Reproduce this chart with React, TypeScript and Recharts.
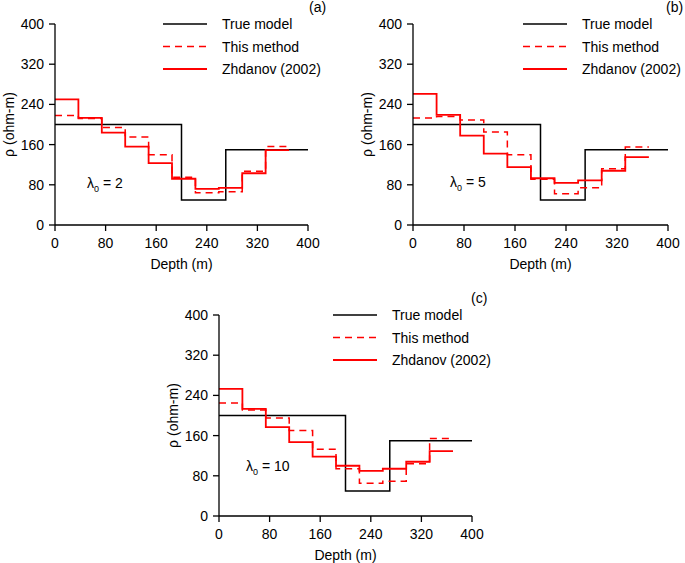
import React from 'react';
import { LineChart, Line, XAxis, YAxis } from 'recharts';

// layer tops (m) of the inverted models, last layer ends at layerEnd
const layerTops = [0, 37, 74, 111, 148, 185, 222, 259, 296, 333];
const layerEnd = 370;

// true model
const trueTops = [0, 200, 270];
const trueValues = [200, 50, 150];
const trueEnd = 400;

// (a) lambda0 = 2
const methodA = [218, 212, 194, 175, 140, 95, 64, 66, 107, 156];
const zhdanovA = [250, 213, 184, 156, 123, 92, 72, 74, 103, 149];
// (b) lambda0 = 5
const methodB = [213, 216, 209, 185, 140, 91, 62, 74, 112, 155];
const zhdanovB = [261, 219, 178, 142, 115, 93, 84, 89, 108, 135];
// (c) lambda0 = 10
const methodC = [225, 211, 195, 170, 133, 94, 65, 69, 104, 154];
const zhdanovC = [253, 213, 177, 147, 118, 100, 90, 94, 108, 129];

const xTicks = [0, 80, 160, 240, 320, 400];
const yTicks = [0, 80, 160, 240, 320, 400];

const FONT = 'Arial, "Liberation Sans", Helvetica, sans-serif';

const steps = (tops: number[], values: number[], end: number) => [
    ...tops.map((x, i) => ({ x, y: values[i] })),
    { x: end, y: values[values.length - 1] },
];

const series = [
    { name: 'True model', color: '#000', width: 1.5, dash: undefined as string | undefined },
    { name: 'This method', color: '#ff0000', width: 1.5, dash: '7 5' },
    { name: 'Zhdanov (2002)', color: '#ff0000', width: 1.8, dash: undefined },
];

const LegendBox = ({ left, top }: { left: number; top: number }) => (
    <svg width={190} height={62} style={{ position: 'absolute', left, top, overflow: 'visible' }}>
        {series.map((s, i) => {
            const y = 8 + i * 22.5;
            return (
                <g key={s.name}>
                    <line x1={0} x2={44} y1={y} y2={y} stroke={s.color}
                        strokeWidth={s.width} strokeDasharray={s.dash} />
                    <text x={59} y={y + 5} fontSize={14} fontFamily={FONT} fill="#000">{s.name}</text>
                </g>
            );
        })}
    </svg>
);

interface PanelProps {
    left: number;
    top: number;
    width: number;
    height: number;
    right: number;
    tag: string;
    tagX: number;
    lambda: number;
    lambdaX: number;
    lambdaY: number;
    legendX: number;
    method: number[];
    zhdanov: number[];
}

const Panel: React.FC<PanelProps> = (p) => {
    const plotH = 201;
    const axisH = 44;
    const bottom = p.height - 24 - plotH - axisH;
    return (
        <div style={{ position: 'absolute', left: p.left, top: p.top, width: p.width, height: p.height }}>
            <LineChart width={p.width} height={p.height}
                margin={{ top: 24, right: p.right, left: 0, bottom }}
                style={{ fontFamily: FONT }}>
                <XAxis type="number" dataKey="x" domain={[0, 400]} ticks={xTicks}
                    allowDataOverflow height={axisH}
                    tick={{ fill: '#000', fontSize: 14 }} tickSize={6} tickMargin={7}
                    axisLine={{ stroke: '#000', strokeWidth: 1.3 }} tickLine={{ stroke: '#000', strokeWidth: 1.3 }}
                    label={{ value: 'Depth (m)', position: 'insideBottom', offset: 0, fill: '#000', fontSize: 14 }} />
                <YAxis type="number" domain={[0, 400]} ticks={yTicks} width={55}
                    tick={{ fill: '#000', fontSize: 14 }} tickSize={6} tickMargin={5}
                    axisLine={{ stroke: '#000', strokeWidth: 1.3 }} tickLine={{ stroke: '#000', strokeWidth: 1.3 }}
                    label={{ value: 'ρ (ohm-m)', angle: -90, position: 'insideLeft', offset: 9, fill: '#000', fontSize: 14, style: { textAnchor: 'middle' } }} />
                <Line name={series[0].name} data={steps(trueTops, trueValues, trueEnd)} dataKey="y" type="stepAfter"
                    stroke={series[0].color} strokeWidth={series[0].width} dot={false} isAnimationActive={false} />
                <Line name={series[1].name} data={steps(layerTops, p.method, layerEnd)} dataKey="y" type="stepAfter"
                    stroke={series[1].color} strokeWidth={series[1].width} strokeDasharray={series[1].dash} dot={false} isAnimationActive={false} />
                <Line name={series[2].name} data={steps(layerTops, p.zhdanov, layerEnd)} dataKey="y" type="stepAfter"
                    stroke={series[2].color} strokeWidth={series[2].width} dot={false} isAnimationActive={false} />
            </LineChart>
            <LegendBox left={p.legendX} top={16} />
            <div style={{ position: 'absolute', left: p.tagX, top: 0, fontFamily: FONT, fontSize: 14, lineHeight: '14px' }}>{p.tag}</div>
            <div style={{ position: 'absolute', left: p.lambdaX, top: p.lambdaY, fontFamily: FONT, fontSize: 14, whiteSpace: 'nowrap' }}>
                λ<sub style={{ fontSize: 9 }}>0</sub> = {p.lambda}
            </div>
        </div>
    );
};

export default function App() {
    return (
        <div style={{ position: 'absolute', left: 0, top: 0, width: 685, height: 563, overflow: 'hidden', background: '#fff' }}>
            <Panel left={0} top={0} width={330} height={280} right={22} tag="(a)" tagX={309}
                lambda={2} lambdaX={87} lambdaY={175} legendX={163} method={methodA} zhdanov={zhdanovA} />
            <Panel left={358} top={0} width={327} height={280} right={17} tag="(b)" tagX={308}
                lambda={5} lambdaX={92} lambdaY={174} legendX={165} method={methodB} zhdanov={zhdanovB} />
            <Panel left={164} top={291} width={330} height={272} right={22} tag="(c)" tagX={307}
                lambda={10} lambdaX={82} lambdaY={167} legendX={169} method={methodC} zhdanov={zhdanovC} />
        </div>
    );
}
